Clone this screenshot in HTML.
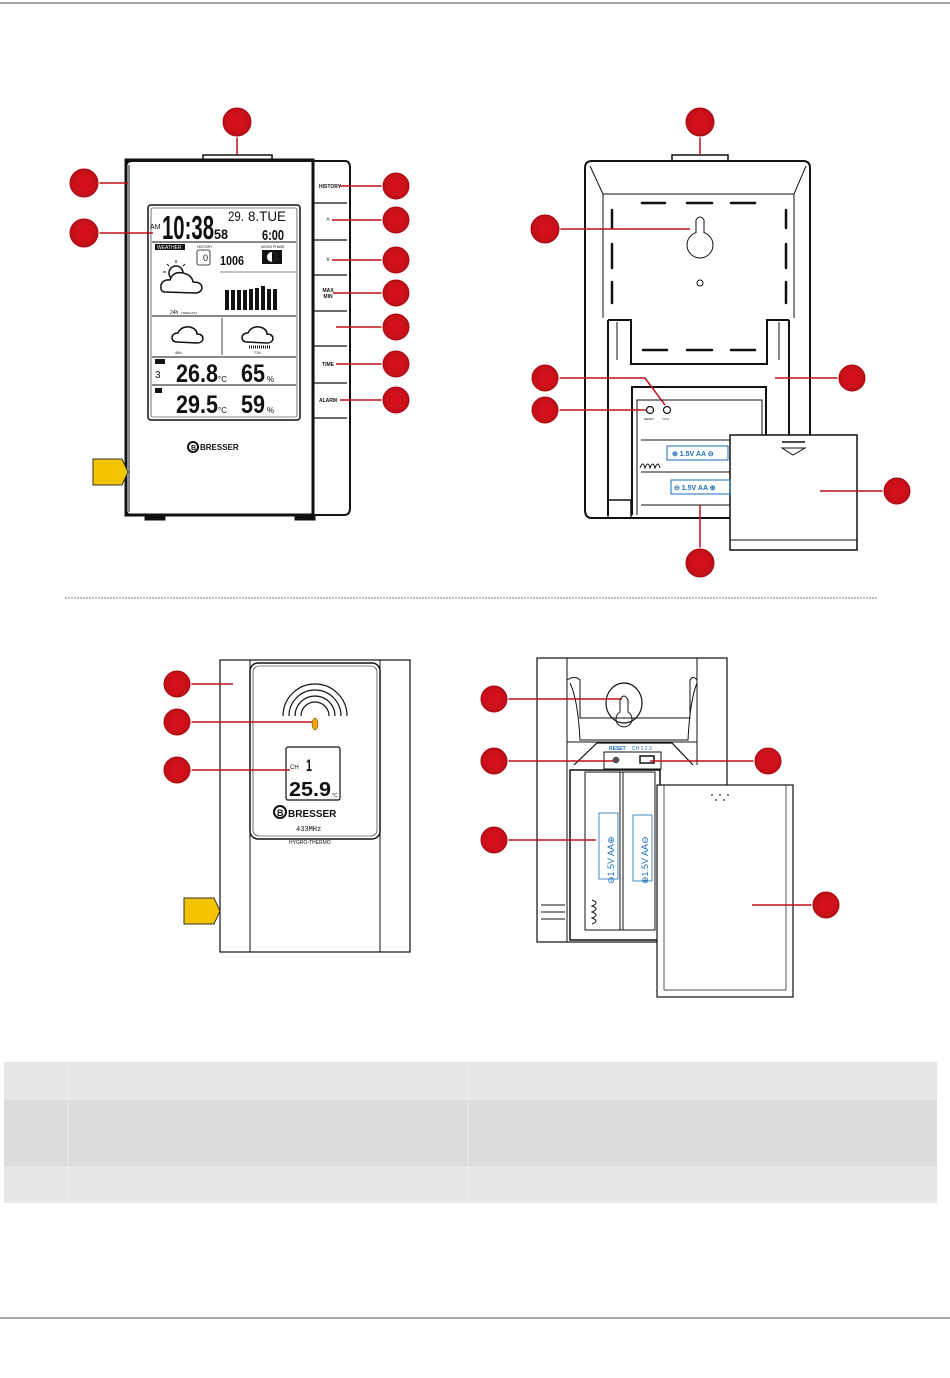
<!DOCTYPE html>
<html><head><meta charset="utf-8"><style>
html,body{margin:0;padding:0;background:#fff;}
svg{display:block;font-family:"Liberation Sans",sans-serif;}
</style></head><body>
<svg width="950" height="1378" viewBox="0 0 950 1378" xmlns="http://www.w3.org/2000/svg">
<defs>
<radialGradient id="rc" cx="50%" cy="50%" r="50%"><stop offset="0" stop-color="#d8101a"/><stop offset="0.8" stop-color="#c8101a"/><stop offset="1" stop-color="#9a0a10"/></radialGradient>
</defs>
<rect width="950" height="1378" fill="#fff"/>
<line x1="0" y1="3" x2="950" y2="3" stroke="#888" stroke-width="1.5"/>
<line x1="0" y1="1318" x2="950" y2="1318" stroke="#888" stroke-width="1.5"/>
<line x1="65" y1="598" x2="878" y2="598" stroke="#777" stroke-width="1" stroke-dasharray="2,1"/>

<!-- ============ FRONT BASE STATION ============ -->
<g stroke="#111" fill="none">
<rect x="203" y="155" width="69" height="7" fill="#fff" stroke-width="1.5"/>
<path d="M132 161 H345 Q350 161 350 168 V508 Q350 515 344 515 H132 Q126 515 126 509 V168 Q126 161 132 161 Z" fill="#fff" stroke-width="2"/>
<rect x="126" y="160" width="187" height="355" fill="none" stroke-width="3"/>
<line x1="129" y1="165" x2="129" y2="512" stroke-width="1"/>
<g stroke-width="1.2">
<line x1="313" y1="203" x2="347" y2="203"/><line x1="313" y1="240" x2="347" y2="240"/>
<line x1="313" y1="275" x2="347" y2="275"/><line x1="313" y1="311" x2="347" y2="311"/>
<line x1="313" y1="346" x2="347" y2="346"/><line x1="313" y1="383" x2="347" y2="383"/>
<line x1="313" y1="418" x2="347" y2="418"/>
</g>
<rect x="145" y="516" width="20" height="4" fill="#111"/><rect x="295" y="516" width="20" height="4" fill="#111"/>
<rect x="148" y="205" width="152" height="215" rx="3" stroke-width="1.5"/>
<rect x="151" y="208" width="146" height="209" rx="2" stroke-width="0.6"/>
<line x1="152" y1="242" x2="296" y2="242" stroke-width="1"/>
<line x1="152" y1="316" x2="296" y2="316" stroke-width="1"/>
<line x1="222" y1="318" x2="222" y2="355" stroke-width="0.8"/>
<line x1="152" y1="357" x2="296" y2="357" stroke-width="1"/>
<line x1="152" y1="385" x2="296" y2="385" stroke-width="1"/>
</g>
<g fill="#111" font-family="Liberation Sans Narrow, Liberation Sans, sans-serif">
<text x="150" y="229" font-size="7">AM</text>
<text x="162" y="239" font-size="33" font-weight="bold" textLength="52" lengthAdjust="spacingAndGlyphs">10:38</text>
<text x="214" y="239" font-size="14" font-weight="bold" textLength="14" lengthAdjust="spacingAndGlyphs">58</text>
<text x="228" y="221" font-size="14" textLength="16" lengthAdjust="spacingAndGlyphs">29.</text>
<text x="248" y="221" font-size="14" textLength="38" lengthAdjust="spacingAndGlyphs">8.TUE</text>
<text x="262" y="240" font-size="15" font-weight="bold" textLength="22" lengthAdjust="spacingAndGlyphs">6:00</text>
<rect x="155" y="244" width="30" height="6"/>
<text x="157" y="249" font-size="5" fill="#fff">WEATHER</text>
<text x="197" y="248" font-size="3.5">HISTORY</text>
<rect x="197" y="250" width="13" height="15" rx="2" fill="none" stroke="#111" stroke-width="0.8"/>
<text x="203" y="261" font-size="9">0</text>
<text x="220" y="265" font-size="13" font-weight="bold" textLength="24" lengthAdjust="spacingAndGlyphs">1006</text>
<text x="261" y="248" font-size="3.5">MOON PHASE</text>
<rect x="262" y="250" width="20" height="14"/>
<circle cx="272" cy="257" r="5" fill="#fff"/><path d="M272 252 A5 5 0 0 1 272 262 Z" fill="#111"/>
<text x="170" y="314" font-size="5">24h</text><text x="181" y="314" font-size="3">FORECAST</text>
<text x="175" y="354" font-size="4">48h</text><text x="254" y="354" font-size="4">72h</text>
<rect x="155" y="359" width="10" height="5"/>
<text x="155" y="378" font-size="10">3</text>
<text x="176" y="382" font-size="25" font-weight="bold" textLength="42" lengthAdjust="spacingAndGlyphs">26.8</text>
<text x="218" y="382" font-size="8">°C</text>
<text x="241" y="382" font-size="25" font-weight="bold" textLength="24" lengthAdjust="spacingAndGlyphs">65</text>
<text x="267" y="382" font-size="8">%</text>
<rect x="155" y="388" width="7" height="5"/>
<text x="176" y="413" font-size="25" font-weight="bold" textLength="42" lengthAdjust="spacingAndGlyphs">29.5</text>
<text x="218" y="413" font-size="8">°C</text>
<text x="241" y="413" font-size="25" font-weight="bold" textLength="24" lengthAdjust="spacingAndGlyphs">59</text>
<text x="267" y="413" font-size="8">%</text>
<g>
<rect x="225" y="290" width="4" height="20"/><rect x="231" y="290" width="4" height="20"/><rect x="237" y="290" width="4" height="20"/>
<rect x="243" y="290" width="4" height="20"/><rect x="249" y="289" width="4" height="21"/><rect x="255" y="288" width="4" height="22"/>
<rect x="261" y="286" width="4" height="24"/><rect x="267" y="289" width="4" height="21"/><rect x="273" y="289" width="4" height="21"/>
</g>
<line x1="220" y1="272" x2="296" y2="272" stroke="#111" stroke-width="0.5"/>
</g>
<g fill="#fff" stroke="#111" stroke-width="1.5">
<g stroke-width="1"><line x1="176" y1="260" x2="176" y2="263"/><line x1="167" y1="264" x2="169" y2="266"/><line x1="185" y1="264" x2="183" y2="266"/><line x1="163" y1="272" x2="166" y2="272"/></g>
<circle cx="176" cy="273" r="7"/>
<path d="M165 292 Q160 292 161 285 Q163 279 170 280 Q173 271 183 273 Q192 275 193 282 Q202 282 202 288 Q201 293 195 293 Z"/>
<path d="M177 342 Q172 342 172 337 Q173 333 178 333 Q181 326 190 327 Q197 329 197 334 Q203 334 203 339 Q202 343 197 343 Z"/>
<path d="M247 342 Q242 342 242 337 Q243 333 248 333 Q251 326 260 327 Q267 329 267 334 Q273 334 273 339 Q272 343 267 343 Z"/>
</g>
<g stroke="#111" stroke-width="1"><line x1="249" y1="347" x2="270" y2="347" stroke-dasharray="1,1" stroke-width="3"/></g>
<circle cx="193" cy="447" r="5" fill="#fff" stroke="#111" stroke-width="2"/>
<text x="191" y="450" font-size="7" font-weight="bold" fill="#111">B</text>
<text x="200" y="450" font-size="8" font-weight="bold" fill="#111">BRESSER</text>
<g font-size="5" fill="#111" font-weight="bold" text-anchor="middle">
<text x="330" y="188">HISTORY</text>
<text x="328" y="223" font-size="7" font-weight="normal">^</text>
<text x="328" y="261" font-size="6" font-weight="normal">v</text>
<text x="328" y="292">MAX</text><text x="328" y="298">MIN</text>
<text x="328" y="366">TIME</text>
<text x="328" y="402">ALARM</text>
</g>
<polygon points="93,459 122,459 128,472 122,485 93,485" fill="#f5c400" stroke="#333" stroke-width="1"/>
<g stroke="#c0101a" stroke-width="1.5">
<line x1="237" y1="122" x2="237" y2="155"/>
<line x1="84" y1="183" x2="128" y2="183"/>
<line x1="84" y1="233" x2="153" y2="233"/>
<line x1="340" y1="186" x2="396" y2="186"/><line x1="332" y1="220" x2="396" y2="220"/>
<line x1="332" y1="260" x2="396" y2="260"/><line x1="333" y1="293" x2="396" y2="293"/>
<line x1="336" y1="327" x2="396" y2="327"/><line x1="336" y1="364" x2="396" y2="364"/>
<line x1="340" y1="400" x2="396" y2="400"/>
</g>
<g fill="url(#rc)" stroke="#fff" stroke-width="1">
<circle cx="237" cy="122" r="15"/><circle cx="84" cy="183" r="15"/><circle cx="84" cy="233" r="15"/>
<circle cx="396" cy="186" r="14"/><circle cx="396" cy="220" r="14"/><circle cx="396" cy="260" r="14"/>
<circle cx="396" cy="293" r="14"/><circle cx="396" cy="327" r="14"/><circle cx="396" cy="364" r="14"/>
<circle cx="396" cy="400" r="14"/>
</g>

<!-- ============ BACK BASE STATION ============ -->
<g stroke="#111" fill="none">
<rect x="672" y="155" width="56" height="7" fill="#fff" stroke-width="1.5"/>
<path d="M592 161 H803 Q810 161 810 168 V510 Q810 518 803 518 H592 Q585 518 585 510 V168 Q585 161 592 161 Z" fill="#fff" stroke-width="2"/>
<path d="M590 166 L603 194 H794 L806 166" stroke-width="1"/>
<line x1="603" y1="194" x2="603" y2="318" stroke-width="1"/>
<line x1="794" y1="194" x2="794" y2="318" stroke-width="1"/>
<g stroke-width="2.5" stroke-linecap="round">
<line x1="642" y1="203" x2="665" y2="203"/><line x1="687" y1="203" x2="712" y2="203"/><line x1="731" y1="203" x2="755" y2="203"/>
<line x1="612" y1="210" x2="612" y2="228"/><line x1="612" y1="244" x2="612" y2="268"/><line x1="612" y1="282" x2="612" y2="303"/>
<line x1="786" y1="210" x2="786" y2="228"/><line x1="786" y1="244" x2="786" y2="268"/><line x1="786" y1="282" x2="786" y2="303"/>
<line x1="643" y1="350" x2="667" y2="350"/><line x1="687" y1="350" x2="712" y2="350"/><line x1="731" y1="350" x2="755" y2="350"/>
</g>
<circle cx="700" cy="245" r="13" stroke-width="1"/>
<path d="M696 233 V220 Q700 214 704 220 V233" fill="#fff" stroke-width="1"/>
<circle cx="700" cy="283" r="3" stroke-width="1"/>
<path d="M608 320 H631 V364 H767 V320 H789" stroke-width="2"/>
<line x1="608" y1="320" x2="608" y2="515" stroke-width="2"/>
<line x1="789" y1="320" x2="789" y2="435" stroke-width="2"/>
<line x1="617" y1="322" x2="617" y2="360" stroke-width="1"/><line x1="779" y1="322" x2="779" y2="360" stroke-width="1"/>
<path d="M632 515 V387 H766 V435" stroke-width="2"/>
<path d="M637 515 V400 H762 V435" stroke-width="1"/>
<line x1="641" y1="440" x2="730" y2="440" stroke-width="1"/>
<line x1="641" y1="472" x2="730" y2="472" stroke-width="1"/>
<line x1="641" y1="505" x2="730" y2="505" stroke-width="1"/>
<circle cx="650" cy="410" r="3.5" stroke-width="1.2"/>
<circle cx="667" cy="410" r="3.5" stroke-width="1.2"/>
<path d="M640 468 q3 -8 5 0 q3 -8 5 0 q3 -8 5 0 q3 -8 5 0" stroke-width="1"/>
<rect x="608" y="500" width="23" height="18" stroke-width="1.5"/>
<rect x="730" y="435" width="127" height="115" fill="#fff" stroke-width="1.5"/>
<line x1="730" y1="540" x2="857" y2="540" stroke-width="1"/>
<line x1="782" y1="442" x2="805" y2="442" stroke-width="1.5"/>
<path d="M782 448 H805 L793 455 Z" stroke-width="1"/>
</g>
<g fill="#1a6fb8" font-size="7" font-weight="bold">
<rect x="667" y="446" width="61" height="14" fill="none" stroke="#1a6fb8" stroke-width="1"/>
<text x="672" y="456">⊕ 1.5V AA ⊖</text>
<rect x="671" y="480" width="59" height="14" fill="none" stroke="#1a6fb8" stroke-width="1"/>
<text x="674" y="490">⊖ 1.5V AA ⊕</text>
</g>
<text x="644" y="420" font-size="3" fill="#111">RESET</text>
<text x="662" y="420" font-size="3" fill="#111">°C/°F</text>
<g stroke="#c0101a" stroke-width="1.5" fill="none">
<line x1="700" y1="122" x2="700" y2="155"/>
<line x1="545" y1="229" x2="690" y2="229"/>
<polyline points="545,378 645,378 665,405"/>
<line x1="545" y1="410" x2="646" y2="410"/>
<line x1="775" y1="378" x2="852" y2="378"/>
<line x1="820" y1="491" x2="897" y2="491"/>
<line x1="700" y1="505" x2="700" y2="563"/>
</g>
<g fill="url(#rc)" stroke="#fff" stroke-width="1">
<circle cx="700" cy="122" r="15"/><circle cx="545" cy="229" r="15"/><circle cx="545" cy="378" r="14"/>
<circle cx="545" cy="410" r="14"/><circle cx="852" cy="378" r="14"/><circle cx="897" cy="491" r="14"/>
<circle cx="700" cy="563" r="15"/>
</g>

<!-- ============ SENSOR FRONT ============ -->
<g stroke="#111" fill="none">
<rect x="220" y="660" width="190" height="292" fill="#fff" stroke-width="1.2"/>
<rect x="250" y="660" width="130" height="292" stroke-width="1"/>
<rect x="250" y="663" width="130" height="176" rx="8" stroke-width="1.5"/>
<rect x="253" y="666" width="124" height="170" rx="6" stroke-width="0.6"/>
<path d="M283 716 A32 32 0 0 1 347 716" stroke-width="1.2"/>
<path d="M289 716 A26 26 0 0 1 341 716" stroke-width="1.2"/>
<path d="M295 716 A20 20 0 0 1 335 716" stroke-width="1.2"/>
<path d="M301 716 A14 14 0 0 1 329 716" stroke-width="1.2"/>
<rect x="286" y="747" width="54" height="53" rx="2" stroke-width="1.2"/>
</g>
<ellipse cx="315" cy="724" rx="3" ry="6" fill="#f0a800" stroke="#333" stroke-width="0.5"/>
<g fill="#111">
<text x="290" y="769" font-size="6">CH</text>
<text x="306" y="771" font-size="17" font-weight="bold" textLength="6" lengthAdjust="spacingAndGlyphs">1</text>
<text x="289" y="796" font-size="20" font-weight="bold" textLength="42" lengthAdjust="spacingAndGlyphs">25.9</text>
<text x="332" y="797" font-size="5">°C</text>
<circle cx="280" cy="812" r="6" fill="#fff" stroke="#111" stroke-width="2"/>
<text x="277" y="816" font-size="9" font-weight="bold">B</text>
<text x="288" y="817" font-size="10" font-weight="bold">BRESSER</text>
<text x="296" y="831" font-size="7" font-family="Liberation Mono, monospace">433MHz</text>
<text x="289" y="844" font-size="5">HYGRO-THERMO</text>
</g>
<polygon points="184,898 214,898 220,911 214,924 184,924" fill="#f5c400" stroke="#333" stroke-width="1"/>
<g stroke="#c0101a" stroke-width="1.5">
<line x1="177" y1="684" x2="233" y2="684"/>
<line x1="177" y1="722" x2="312" y2="722"/>
<line x1="177" y1="770" x2="290" y2="770"/>
</g>
<g fill="url(#rc)" stroke="#fff" stroke-width="1">
<circle cx="177" cy="684" r="14"/><circle cx="177" cy="722" r="14"/><circle cx="177" cy="770" r="14"/>
</g>

<!-- ============ SENSOR BACK ============ -->
<g stroke="#111" fill="none">
<rect x="537" y="658" width="190" height="284" fill="#fff" stroke-width="1.2"/>
<line x1="567" y1="658" x2="567" y2="942" stroke-width="1"/>
<line x1="697" y1="658" x2="697" y2="765" stroke-width="1"/>
<path d="M567 680 Q575 675 580 680 V718 H690 V680 Q693 675 697 680" stroke-width="1"/>
<path d="M570 683 Q578 700 580 740 H688 Q690 700 697 683" stroke-width="1"/>
<line x1="567" y1="742" x2="697" y2="742" stroke-width="1"/>
<ellipse cx="624" cy="703" rx="18" ry="20" stroke-width="1.2"/>
<path d="M620 712 V700 Q624 692 628 700 V712 A8 8 0 1 1 620 712 Z" stroke-width="1"/>
<path d="M574 765 L597 743 H672 L693 765" stroke-width="1.2"/>
<rect x="604" y="752" width="57" height="17" stroke-width="1"/>
<circle cx="616" cy="760" r="3" fill="#555" stroke-width="0.5"/>
<rect x="640" y="756" width="14" height="7" stroke-width="1.5"/>
<rect x="570" y="770" width="90" height="170" stroke-width="1.5"/>
<rect x="585" y="772" width="70" height="158" stroke-width="1"/>
<line x1="620" y1="772" x2="620" y2="930" stroke-width="1"/>
<line x1="623" y1="772" x2="623" y2="930" stroke-width="1"/>
<rect x="599" y="813" width="19" height="66" stroke="#1a6fb8" stroke-width="0.8"/>
<rect x="633" y="815" width="19" height="66" stroke="#1a6fb8" stroke-width="0.8"/>
<path d="M592 900 q8 3 0 6 q8 3 0 6 q8 3 0 6 q8 3 0 6" stroke-width="1"/>
<line x1="541" y1="905" x2="565" y2="905"/><line x1="541" y1="912" x2="565" y2="912"/><line x1="541" y1="919" x2="565" y2="919"/>
<rect x="657" y="785" width="136" height="212" fill="#fff" stroke-width="1.2"/>
<line x1="664" y1="785" x2="664" y2="990" stroke-width="0.7"/>
<line x1="786" y1="785" x2="786" y2="990" stroke-width="0.7"/>
<line x1="664" y1="990" x2="786" y2="990" stroke-width="0.7"/>
</g>
<g fill="#555"><circle cx="712" cy="795" r="1"/><circle cx="720" cy="795" r="1"/><circle cx="728" cy="795" r="1"/><circle cx="716" cy="800" r="1"/><circle cx="724" cy="800" r="1"/></g>
<g fill="#1a6fb8" font-size="9">
<text transform="translate(614,884) rotate(-90)">⊖1.5V AA⊕</text>
<text transform="translate(648,884) rotate(-90)">⊕1.5V AA⊖</text>
<text x="609" y="750" font-size="5" font-weight="bold">RESET</text>
<text x="632" y="750" font-size="5">CH 1 2 3</text>
</g>
<g stroke="#c0101a" stroke-width="1.5">
<line x1="494" y1="699" x2="622" y2="699"/>
<line x1="494" y1="761" x2="614" y2="761"/>
<line x1="650" y1="761" x2="768" y2="761"/>
<line x1="494" y1="840" x2="596" y2="840"/>
<line x1="752" y1="905" x2="826" y2="905"/>
</g>
<g fill="url(#rc)" stroke="#fff" stroke-width="1">
<circle cx="494" cy="699" r="14"/><circle cx="494" cy="761" r="14"/><circle cx="768" cy="761" r="14"/>
<circle cx="494" cy="840" r="14"/><circle cx="826" cy="905" r="14"/>
</g>

<!-- ============ TABLE ============ -->
<rect x="4" y="1062" width="933" height="38" fill="#e7e7e7"/>
<rect x="4" y="1100" width="933" height="66" fill="#dcdcdc"/>
<rect x="4" y="1166" width="933" height="37" fill="#e7e7e7"/>
<line x1="68" y1="1062" x2="68" y2="1203" stroke="#eeeeee" stroke-width="1"/>
<line x1="468" y1="1062" x2="468" y2="1203" stroke="#eeeeee" stroke-width="1"/>
</svg>
</body></html>
